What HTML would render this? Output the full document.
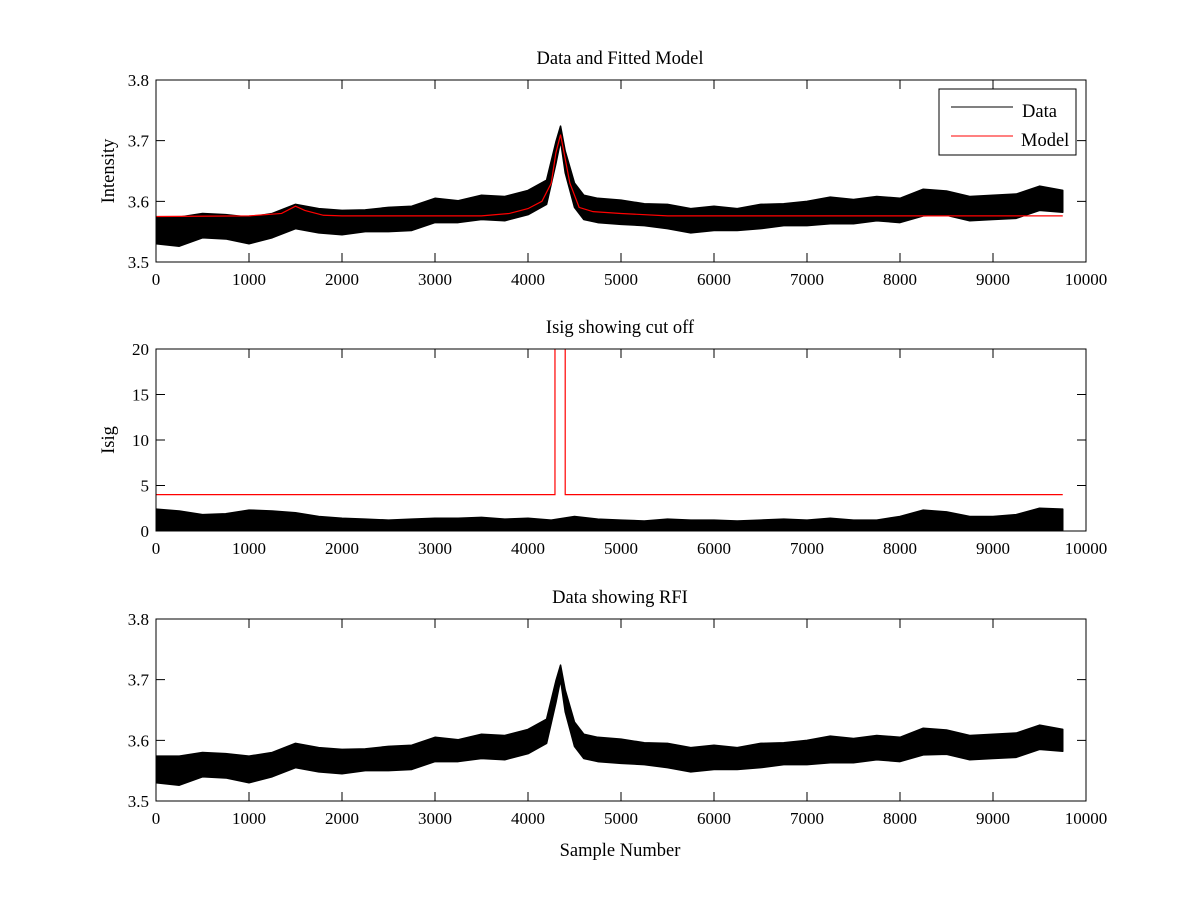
<!DOCTYPE html>
<html><head><meta charset="utf-8"><style>
body{margin:0;background:#fff;}
svg text{font-family:"Liberation Serif",serif;font-size:17px;fill:#000;}
svg text.big{font-size:18.5px;}
</style></head><body>
<svg id="fig" width="1200" height="900" xmlns="http://www.w3.org/2000/svg">
<rect width="1200" height="900" fill="#fff"/>
</svg>
<script>
// Data (binned envelope)
const dataX    = [0,250,500,750,1000,1250,1500,1750,2000,2250,2500,2750,3000,3250,3500,3750,4000,4200,4300,4350,4400,4500,4600,4750,5000,5250,5500,5750,6000,6250,6500,6750,7000,7250,7500,7750,8000,8250,8500,8750,9000,9250,9500,9750];
const dataMean = [3.552,3.550,3.560,3.558,3.552,3.560,3.575,3.568,3.565,3.568,3.570,3.572,3.585,3.583,3.590,3.588,3.598,3.615,3.680,3.712,3.665,3.610,3.590,3.585,3.582,3.578,3.575,3.568,3.572,3.570,3.575,3.578,3.580,3.585,3.583,3.588,3.585,3.598,3.597,3.588,3.590,3.592,3.605,3.600];
const dataSpread=[0.022,0.024,0.020,0.020,0.022,0.020,0.020,0.020,0.020,0.018,0.020,0.020,0.020,0.018,0.020,0.020,0.020,0.020,0.018,0.012,0.018,0.020,0.020,0.020,0.020,0.018,0.020,0.020,0.020,0.018,0.020,0.018,0.020,0.022,0.020,0.020,0.020,0.022,0.020,0.020,0.020,0.020,0.020,0.018];
const modelX   = [0,1000,1350,1500,1600,1800,2000,3500,3800,4000,4150,4250,4300,4350,4400,4450,4550,4700,5000,5500,9750];
const modelY   = [3.575,3.576,3.580,3.592,3.585,3.577,3.576,3.576,3.580,3.588,3.600,3.630,3.680,3.710,3.670,3.630,3.590,3.583,3.580,3.576,3.576];
const isigX    = [0,250,500,750,1000,1250,1500,1750,2000,2250,2500,2750,3000,3250,3500,3750,4000,4250,4500,4750,5000,5250,5500,5750,6000,6250,6500,6750,7000,7250,7500,7750,8000,8250,8500,8750,9000,9250,9500,9750];
const isigHi   = [2.4,2.2,1.8,1.9,2.3,2.2,2.0,1.6,1.4,1.3,1.2,1.3,1.4,1.4,1.5,1.3,1.4,1.2,1.6,1.3,1.2,1.1,1.3,1.2,1.2,1.1,1.2,1.3,1.2,1.4,1.2,1.2,1.6,2.3,2.1,1.6,1.6,1.8,2.5,2.4];
const cutX     = [0,4290,4290,4400,4400,9750];
const cutY     = [4,4,25,25,4,4];
const xTicks   = [0,1000,2000,3000,4000,5000,6000,7000,8000,9000,10000];
const yTicks1  = [3.5,3.6,3.7,3.8];
const yTicks2  = [0,5,10,15,20];

const svg=document.getElementById('fig');
const NS='http://www.w3.org/2000/svg';
function el(tag,attrs,parent){const e=document.createElementNS(NS,tag);for(const k in attrs)e.setAttribute(k,attrs[k]);(parent||svg).appendChild(e);return e;}
const L=156,R=1086;
function xs(v){return L+(v/10000)*(R-L);}
function mkY(top,bot,min,max){return v=>bot-(v-min)/(max-min)*(bot-top);}

function axes(name,top,bot,min,max,yt,title,ylabel,xlabel){
  const g=el('g',{});
  
  
  const ys=mkY(top,bot,min,max);
  const cp=el('clipPath',{id:'cp-'+name},g);
  el('rect',{x:L,y:top,width:R-L,height:bot-top},cp);
  const plot=el('g',{'clip-path':'url(#cp-'+name+')'},g);
  
  
  xTicks.forEach(t=>{
    const x=xs(t);
    const tk=el('path',{d:`M${x} ${bot}V${bot-9}M${x} ${top}V${top+9}`,stroke:'#000','stroke-width':1},g);
    
    
    const tx=el('text',{x:x,y:bot+23,'text-anchor':'middle'},g);tx.textContent=t;
    
    
  });
  yt.forEach(t=>{
    const y=ys(t);
    const tk=el('path',{d:`M${L} ${y}H${L+9}M${R} ${y}H${R-9}`,stroke:'#000','stroke-width':1},g);
    
    
    const tx=el('text',{x:L-7,y:y+6,'text-anchor':'end'},g);tx.textContent=(max<10?t.toFixed(1):t);
    
    
  });
  const ttl=el('text',{x:(L+R)/2-1,y:top-16,'text-anchor':'middle',class:'big'},g);ttl.textContent=title;
  
  
  if(ylabel){const yl=el('text',{x:0,y:0,'text-anchor':'middle',class:'big',transform:`translate(${L-42},${(top+bot)/2}) rotate(-90)`},g);yl.textContent=ylabel;
    
    }
  if(xlabel){const xl=el('text',{x:(L+R)/2-1,y:bot+55,'text-anchor':'middle',class:'big'},g);xl.textContent=xlabel;
    
    }
  return {g,plot,ys,top,bot};
}
function frame(a){const f=el('rect',{x:L,y:a.top,width:R-L,height:a.bot-a.top,fill:'none',stroke:'#000','stroke-width':1},a.g);
  }
function band(a,X,lo,hi,name){
  let d='';
  X.forEach((x,i)=>{d+=(i?'L':'M')+xs(x)+' '+a.ys(hi[i]);});
  for(let i=X.length-1;i>=0;i--)d+='L'+xs(X[i])+' '+a.ys(lo[i]);
  const p=el('path',{d:d+'Z',fill:'#000',stroke:'#000','stroke-width':1.5,'stroke-linejoin':'round'},a.plot);
  
  
}
function line(a,X,Y,color,name){
  const p=el('polyline',{points:X.map((x,i)=>xs(x)+','+a.ys(Y[i])).join(' '),fill:'none',stroke:color,'stroke-width':1.2},a.plot);
  
  
}
const lo=dataMean.map((m,i)=>m-dataSpread[i]), hi=dataMean.map((m,i)=>m+dataSpread[i]);

const a1=axes('data-and-model-axes',80,262,3.5,3.8,yTicks1,'Data and Fitted Model','Intensity');
band(a1,dataX,lo,hi,'data-series');
line(a1,modelX,modelY,'#f00','model-series');
frame(a1);
// legend
const lg=el('g',{},a1.g);


el('rect',{x:939,y:89,width:137,height:66,fill:'#fff',stroke:'#000'},lg);
el('line',{x1:951,y1:107,x2:1013,y2:107,stroke:'#000'},lg);
el('line',{x1:951,y1:136,x2:1013,y2:136,stroke:'#f00'},lg);
const t1=el('text',{x:1022,y:117,class:'big'},lg);t1.textContent='Data';


const t2=el('text',{x:1021,y:146,class:'big'},lg);t2.textContent='Model';



const a2=axes('isig-axes',349,531,0,20,yTicks2,'Isig showing cut off','Isig');
band(a2,isigX,isigX.map(()=>0.1),isigHi,'isig-series');
line(a2,cutX,cutY,'#f00','cutoff-line');
frame(a2);

const a3=axes('rfi-axes',619,801,3.5,3.8,yTicks1,'Data showing RFI',null,'Sample Number');
band(a3,dataX,lo,hi,'rfi-data-series');
frame(a3);
</script>
</body></html>
